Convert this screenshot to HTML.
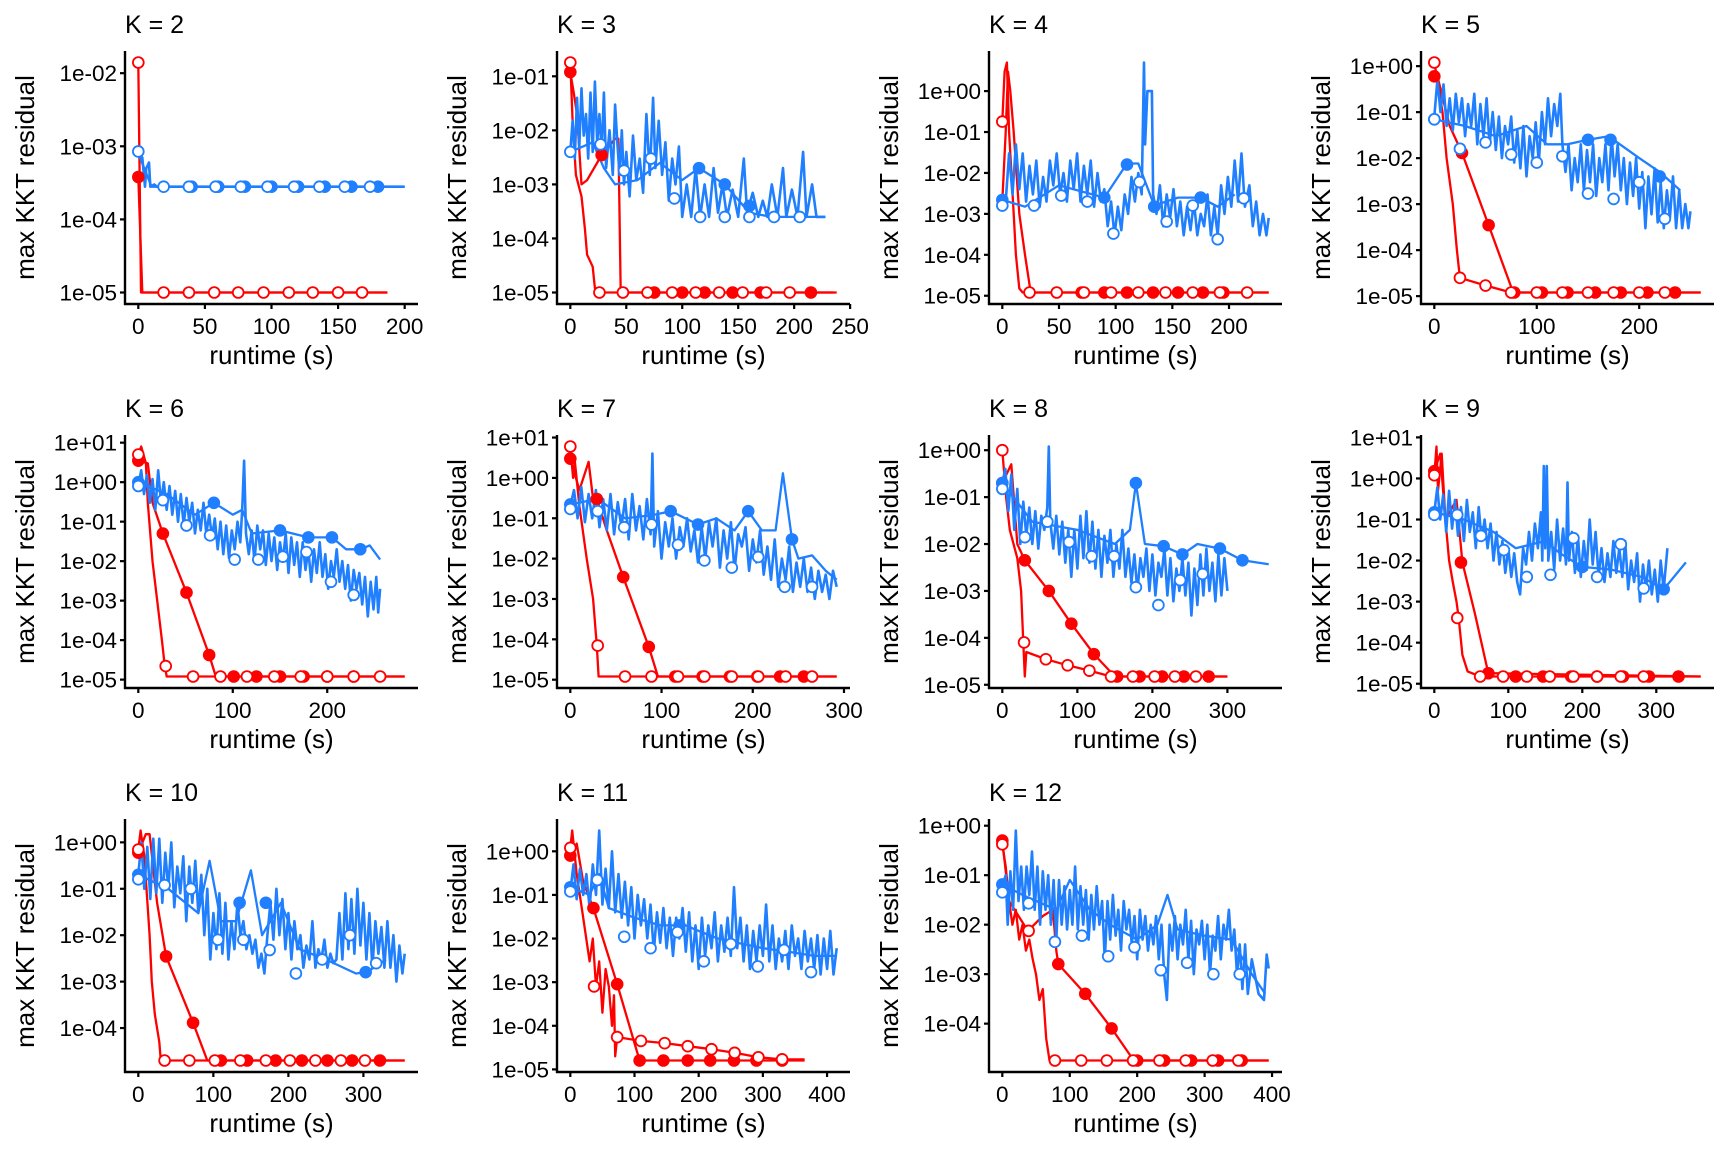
<!DOCTYPE html>
<html><head><meta charset="utf-8">
<style>
html,body{margin:0;padding:0;background:#fff;}
svg{display:block;font-family:"Liberation Sans",Arial,sans-serif;}
</style></head>
<body>
<svg id="fig" width="1728" height="1152" viewBox="0 0 1728 1152" xmlns="http://www.w3.org/2000/svg"></svg>
<script>
// ---------- K = 2 ----------
const k2RedOpen=[[0,1.4e-2],[2,1e-5],[187,1e-5]];
const k2RedOpenPts=[[0,1.4e-2],[19,1e-5],[38,1e-5],[57,1e-5],[75,1e-5],[94,1e-5],[113,1e-5],[131,1e-5],[150,1e-5],[168,1e-5]];
const k2RedFill=[[0,3.8e-4],[3,1e-5],[187,1e-5]];
const k2RedFillPts=[[0,3.8e-4]];
const k2BlueOpen=[[0,8.5e-4],[3,7e-4],[5,2.8e-4],[6,5e-4],[8,6e-4],[9,2.8e-4],[12,3e-4],[14,2.8e-4],[200,2.8e-4]];
const k2BlueOpenPts=[[0,8.5e-4],[19,2.8e-4],[38,2.8e-4],[58,2.8e-4],[77,2.8e-4],[97,2.8e-4],[117,2.8e-4],[136,2.8e-4],[155,2.8e-4],[174,2.8e-4]];
const k2BlueFill=[[0,8e-4],[10,2.8e-4],[200,2.8e-4]];
const k2BlueFillPts=[[40,2.8e-4],[60,2.8e-4],[80,2.8e-4],[100,2.8e-4],[120,2.8e-4],[140,2.8e-4],[160,2.8e-4],[180,2.8e-4]];
const k2XTicks=[0,50,100,150,200];
// ---------- K = 3 ----------
const k3RedOpen=[[0,1.8e-1],[2,1.5e-2],[5,1.5e-3],[10,6e-4],[13,1.5e-4],[15,5e-5],[20,3e-5],[22,1.2e-5],[25,1e-5],[235,1e-5]];
const k3RedOpenPts=[[0,1.8e-1],[26,1e-5],[47,1e-5],[69,1e-5],[91,1e-5],[112,1e-5],[133,1e-5],[154,1e-5],[175,1e-5],[196,1e-5]];
const k3RedFill=[[0,1.2e-1],[3,5e-2],[6,2e-2],[10,1e-3],[15,1.2e-3],[28,3.5e-3],[40,7e-3],[43,7e-3],[45,1e-5],[238,1e-5]];
const k3RedFillPts=[[0,1.2e-1],[28,3.5e-3],[75,1e-5],[100,1e-5],[120,1e-5],[145,1e-5],[170,1e-5],[215,1e-5]];
const k3BlueOpen=[[0,4e-3],[2,1.5e-2],[4,3e-3],[6,4e-2],[8,5e-3],[10,6e-2],[12,8e-3],[14,2e-2],[16,3e-3],[18,5e-2],[20,4e-3],[22,8e-2],[24,6e-3],[26,2e-2],[28,4e-3],[30,5e-2],[32,2e-3],[35,1e-2],[38,1.5e-3],[40,3e-2],[42,6e-3],[44,1.5e-3],[46,1e-2],[48,1e-3],[50,4e-3],[53,6e-4],[56,8e-3],[59,1.2e-3],[62,3e-3],[65,7e-4],[68,2e-2],[71,1.5e-3],[74,4e-2],[76,2e-3],[79,1.5e-2],[82,1.5e-3],[85,6e-3],[88,5e-4],[91,3e-3],[94,1e-3],[97,5e-3],[100,2.5e-4],[104,1e-3],[108,2.5e-4],[112,2e-3],[116,2.5e-4],[120,1e-3],[124,2.5e-4],[128,2e-3],[132,3e-4],[136,1e-3],[140,2.5e-4],[145,8e-4],[150,2.5e-4],[155,3e-3],[158,3e-4],[163,7e-4],[168,2.5e-4],[172,5e-4],[176,2.5e-4],[180,1e-3],[185,2.5e-4],[190,2e-3],[193,2.5e-4],[198,8e-4],[203,2.5e-4],[208,4e-3],[211,2.5e-4],[216,1e-3],[220,2.5e-4],[228,2.5e-4]];
const k3BlueOpenPts=[[0,4e-3],[27,5.5e-3],[48,1.8e-3],[72,3e-3],[93,5.5e-4],[116,2.5e-4],[138,2.5e-4],[160,2.5e-4],[182,2.5e-4],[205,2.5e-4]];
const k3BlueFill=[[0,4e-3],[20,6e-3],[30,2e-3],[40,1e-3],[60,1.2e-3],[80,2.5e-3],[100,1.2e-3],[115,2e-3],[138,1e-3],[160,3e-4],[180,2.5e-4],[228,2.5e-4]];
const k3BlueFillPts=[[115,2e-3],[138,1e-3],[160,4e-4]];
const k3XTicks=[0,50,100,150,200,250];
// ---------- K = 4 ----------
const k4RedOpen=[[0,1.8e-1],[2,3],[4,5],[6,1e-1],[10,1e-3],[12,1e-4],[15,1.5e-5],[18,1.2e-5],[235,1.2e-5]];
const k4RedOpenPts=[[0,1.8e-1],[24,1.2e-5],[48,1.2e-5],[72,1.2e-5],[96,1.2e-5],[120,1.2e-5],[144,1.2e-5],[168,1.2e-5],[192,1.2e-5],[216,1.2e-5]];
const k4RedFill=[[0,2e-3],[3,1e-1],[5,3],[7,1],[10,1e-1],[15,1e-3],[20,1e-4],[25,1.2e-5],[235,1.2e-5]];
const k4RedFillPts=[[70,1.2e-5],[90,1.2e-5],[110,1.2e-5],[133,1.2e-5],[155,1.2e-5],[177,1.2e-5],[195,1.2e-5]];
const k4BlueOpen=[[0,2.5e-3],[3,2e-3],[6,3e-2],[9,3e-3],[12,5e-2],[15,4e-3],[18,3e-2],[21,2e-3],[24,1.5e-2],[27,3e-3],[30,2e-2],[33,1.5e-3],[36,8e-3],[39,2e-3],[42,2e-2],[45,5e-3],[48,3e-2],[51,3e-3],[54,1e-2],[57,2e-3],[60,2e-2],[63,4e-3],[66,3e-2],[69,2e-3],[72,1.5e-2],[75,3e-3],[78,2e-2],[81,1.5e-3],[84,1e-2],[87,2e-3],[90,4e-3],[93,5e-4],[96,2e-3],[99,3e-4],[102,1.5e-3],[105,4e-4],[108,3e-3],[111,1e-3],[114,8e-3],[117,2e-3],[120,1e-2],[123,3e-3],[125,5],[126,5e-2],[128,1],[132,1],[133,3e-3],[136,1e-3],[139,5e-3],[142,5e-4],[145,3e-3],[148,8e-4],[151,4e-3],[154,5e-4],[157,2e-3],[160,3e-4],[163,1.5e-3],[166,4e-4],[169,2e-3],[172,3e-4],[175,1e-3],[178,5e-4],[181,3e-3],[184,3e-4],[187,1.5e-3],[190,3e-4],[193,5e-3],[196,1e-3],[199,8e-3],[202,1.5e-3],[205,2e-2],[208,2e-3],[211,3e-2],[214,1.5e-3],[218,5e-3],[221,5e-4],[224,2e-3],[227,3e-4],[230,1e-3],[233,3e-4],[235,8e-4]];
const k4BlueOpenPts=[[0,1.6e-3],[28,1.6e-3],[52,2.8e-3],[75,2e-3],[98,3.3e-4],[121,6e-3],[145,6.5e-4],[168,1.6e-3],[190,2.4e-4],[213,2.4e-3]];
const k4BlueFill=[[0,2.2e-3],[20,1.5e-3],[50,5e-3],[90,2.5e-3],[110,1.7e-2],[120,1.7e-2],[134,1.6e-3],[155,2.5e-3],[175,2.5e-3],[190,1.5e-3],[205,3e-3]];
const k4BlueFillPts=[[0,2.2e-3],[90,2.5e-3],[110,1.6e-2],[134,1.5e-3],[175,2.5e-3]];
const k4XTicks=[0,50,100,150,200];
// ---------- K = 5 ----------
const k5RedOpen=[[0,1.2],[3,0.5],[8,0.1],[12,1e-2],[18,1e-3],[22,1e-4],[25,2.5e-5],[50,1.7e-5],[75,1.2e-5],[260,1.2e-5]];
const k5RedOpenPts=[[0,1.2],[25,2.5e-5],[50,1.7e-5],[75,1.2e-5],[100,1.2e-5],[125,1.2e-5],[150,1.2e-5],[175,1.2e-5],[200,1.2e-5],[225,1.2e-5]];
const k5RedFill=[[0,0.6],[3,0.6],[15,0.05],[27,1.3e-2],[53,3.5e-4],[77,1.2e-5],[260,1.2e-5]];
const k5RedFillPts=[[0,0.6],[27,1.3e-2],[53,3.5e-4],[78,1.2e-5],[105,1.2e-5],[130,1.2e-5],[157,1.2e-5],[182,1.2e-5],[208,1.2e-5],[235,1.2e-5]];
const k5BlueOpen=[[0,0.08],[3,0.5],[6,0.1],[9,0.4],[12,0.05],[15,0.2],[18,0.04],[21,0.25],[24,0.06],[27,0.2],[30,0.03],[33,0.15],[36,0.05],[39,0.25],[42,0.02],[45,0.15],[48,0.03],[51,0.2],[54,0.02],[57,0.1],[60,0.015],[63,0.08],[66,0.01],[69,0.05],[72,0.02],[75,0.08],[78,0.008],[81,0.04],[84,0.006],[87,0.05],[90,0.004],[93,0.03],[96,0.01],[99,0.06],[102,0.008],[105,0.1],[108,0.02],[111,0.2],[114,0.03],[117,0.15],[120,0.05],[123,0.25],[125,0.02],[128,0.005],[131,0.02],[134,0.002],[137,0.01],[140,0.003],[143,0.02],[146,0.002],[149,0.015],[152,0.003],[155,0.02],[158,0.0015],[161,0.01],[164,0.003],[167,0.02],[170,0.002],[173,0.03],[176,0.004],[179,0.02],[182,0.002],[185,0.01],[188,0.001],[191,0.008],[194,0.0015],[197,0.01],[200,0.0008],[203,0.005],[206,0.0003],[209,0.004],[212,0.0006],[215,0.006],[218,0.0004],[221,0.003],[224,0.0003],[227,0.002],[230,0.0005],[233,0.004],[236,0.0003],[239,0.002],[242,0.0003],[245,0.001],[248,0.0003],[250,0.0007]];
const k5BlueOpenPts=[[0,7e-2],[25,1.6e-2],[50,2.2e-2],[75,1.2e-2],[100,8e-3],[125,1.1e-2],[150,1.7e-3],[175,1.3e-3],[200,3e-3],[225,4.8e-4]];
const k5BlueFill=[[0,0.07],[30,0.05],[60,0.03],[90,0.05],[110,0.02],[130,0.02],[150,0.025],[170,0.03],[200,0.01],[220,0.005],[240,0.002]];
const k5BlueFillPts=[[0,0.07],[150,0.025],[172,0.025],[220,0.004]];
const k5XTicks=[0,100,200];
// ---------- K = 6 ----------
const k6RedOpen=[[0,5],[3,8],[8,3],[10,0.3],[15,0.01],[20,1e-3],[25,1e-4],[28,2.2e-5],[30,1.2e-5],[282,1.2e-5]];
const k6RedOpenPts=[[0,5],[29,2.2e-5],[58,1.2e-5],[87,1.2e-5],[115,1.2e-5],[144,1.2e-5],[172,1.2e-5],[200,1.2e-5],[228,1.2e-5],[256,1.2e-5]];
const k6RedFill=[[0,3.5],[10,3],[15,0.3],[26,5e-2],[51,1.6e-3],[75,4.2e-5],[82,1.2e-5],[282,1.2e-5]];
const k6RedFillPts=[[0,3.5],[26,5e-2],[51,1.6e-3],[75,4.2e-5],[101,1.2e-5],[125,1.2e-5],[150,1.2e-5],[175,1.2e-5],[200,1.2e-5],[228,1.2e-5]];
const k6BlueOpen=[[0,0.8],[3,2],[6,0.5],[9,1.5],[12,0.3],[15,1.2],[18,0.2],[21,2],[24,0.3],[27,1],[30,0.2],[33,0.8],[36,0.15],[39,0.6],[42,0.1],[45,0.5],[48,0.08],[51,0.4],[54,0.1],[57,0.3],[60,0.05],[63,0.2],[66,0.06],[69,0.3],[72,0.05],[75,0.15],[78,0.04],[81,0.12],[84,0.02],[87,0.1],[90,0.015],[93,0.08],[96,0.012],[99,0.06],[102,0.02],[105,0.1],[108,0.03],[110,0.2],[112,3.5],[114,0.05],[117,0.015],[120,0.06],[123,0.01],[126,0.08],[129,0.02],[132,0.06],[135,0.008],[138,0.05],[141,0.01],[144,0.04],[147,0.006],[150,0.03],[153,0.01],[156,0.05],[159,0.005],[162,0.04],[165,0.008],[168,0.03],[171,0.004],[174,0.03],[177,0.006],[180,0.02],[183,0.003],[186,0.02],[189,0.005],[192,0.03],[195,0.004],[198,0.015],[201,0.002],[204,0.01],[207,0.004],[210,0.02],[213,0.003],[216,0.01],[219,0.002],[222,0.008],[225,0.001],[228,0.006],[231,0.002],[234,0.005],[237,0.0008],[240,0.004],[243,0.0004],[246,0.003],[249,0.0006],[252,0.004],[254,0.0005],[256,0.002]];
const k6BlueOpenPts=[[0,0.8],[26,0.35],[51,0.08],[76,0.045],[102,0.011],[127,0.011],[153,0.013],[178,0.017],[204,0.003],[228,0.0014]];
const k6BlueFill=[[0,1],[30,0.5],[60,0.15],[80,0.3],[100,0.15],[110,0.2],[120,0.05],[150,0.06],[180,0.04],[205,0.04],[220,0.02],[235,0.02],[245,0.025],[256,0.011]];
const k6BlueFillPts=[[0,1],[80,0.3],[150,0.06],[180,0.04],[205,0.04],[235,0.02]];
const k6XTicks=[0,100,200];
// ---------- K = 7 ----------
const k7RedOpen=[[0,6],[3,1],[5,2.5],[10,0.2],[18,1e-2],[25,1e-3],[29,7e-5],[31,1.2e-5],[292,1.2e-5]];
const k7RedOpenPts=[[0,6],[30,7e-5],[60,1.2e-5],[89,1.2e-5],[118,1.2e-5],[147,1.2e-5],[177,1.2e-5],[206,1.2e-5],[236,1.2e-5],[265,1.2e-5]];
const k7RedFill=[[0,3],[10,0.5],[20,2.5],[25,0.3],[29,0.3],[40,0.05],[58,3.5e-3],[86,6.5e-5],[96,1.2e-5],[292,1.2e-5]];
const k7RedFillPts=[[0,3],[29,0.3],[58,3.5e-3],[86,6.5e-5],[115,1.2e-5],[145,1.2e-5],[175,1.2e-5],[205,1.2e-5],[230,1.2e-5],[256,1.2e-5]];
const k7BlueOpen=[[0,0.2],[4,0.5],[8,0.1],[12,0.6],[16,0.08],[20,0.4],[24,0.1],[28,0.5],[32,0.06],[36,0.3],[40,0.05],[44,0.4],[48,0.04],[52,0.25],[56,0.06],[60,0.3],[64,0.03],[68,0.4],[72,0.05],[76,0.2],[80,0.03],[84,0.3],[88,0.04],[90,4],[92,0.02],[96,0.15],[100,0.01],[104,0.08],[108,0.02],[112,0.1],[116,0.01],[120,0.06],[124,0.02],[128,0.1],[132,0.015],[136,0.05],[140,0.008],[144,0.06],[148,0.01],[152,0.08],[156,0.02],[160,0.1],[164,0.006],[168,0.05],[172,0.01],[176,0.08],[180,0.005],[184,0.04],[188,0.02],[192,0.06],[196,0.005],[200,0.03],[204,0.008],[208,0.05],[212,0.004],[216,0.02],[220,0.003],[224,0.03],[228,0.002],[232,0.01],[236,0.003],[240,0.02],[244,0.0015],[248,0.008],[252,0.002],[256,0.01],[260,0.0015],[264,0.006],[268,0.001],[272,0.005],[276,0.0015],[280,0.004],[284,0.001],[288,0.005],[292,0.002]];
const k7BlueOpenPts=[[0,0.17],[30,0.15],[59,0.06],[89,0.07],[118,0.022],[147,0.009],[177,0.006],[206,0.011],[235,0.002],[265,0.002]];
const k7BlueFill=[[0,0.22],[30,0.3],[60,0.1],[90,0.12],[110,0.15],[140,0.07],[160,0.1],[180,0.05],[195,0.15],[210,0.05],[225,0.05],[233,1.3],[243,0.03],[250,0.01],[265,0.012],[280,0.005],[292,0.003]];
const k7BlueFillPts=[[0,0.22],[110,0.15],[140,0.07],[195,0.15],[243,0.03]];
const k7XTicks=[0,100,200,300];
// ---------- K = 8 ----------
const k8RedOpen=[[0,1],[5,0.1],[10,0.02],[20,5e-3],[25,1e-3],[28,8e-5],[30,1.5e-5],[32,5e-5],[58,3.5e-5],[87,2.6e-5],[116,2e-5],[145,1.5e-5],[300,1.5e-5]];
const k8RedOpenPts=[[0,1],[29,8e-5],[58,3.5e-5],[87,2.6e-5],[116,2e-5],[145,1.5e-5],[174,1.5e-5],[203,1.5e-5],[230,1.5e-5],[258,1.5e-5]];
const k8RedFill=[[0,0.2],[12,0.5],[20,1e-2],[30,4.5e-3],[62,1e-3],[92,2e-4],[122,4.5e-5],[150,1.5e-5],[300,1.5e-5]];
const k8RedFillPts=[[0,0.2],[30,4.5e-3],[62,1e-3],[92,2e-4],[122,4.5e-5],[153,1.5e-5],[183,1.5e-5],[213,1.5e-5],[242,1.5e-5],[275,1.5e-5]];
const k8BlueOpen=[[0,0.2],[4,0.4],[8,0.05],[12,0.3],[16,0.02],[20,0.15],[24,0.01],[28,0.08],[32,0.015],[36,0.06],[40,0.01],[44,0.05],[48,0.008],[52,0.04],[56,0.02],[60,0.06],[62,1.2],[64,0.03],[68,0.008],[72,0.04],[76,0.006],[80,0.03],[84,0.004],[88,0.02],[92,0.002],[96,0.02],[100,0.003],[104,0.04],[108,0.005],[112,0.05],[116,0.004],[120,0.03],[124,0.003],[128,0.02],[132,0.002],[136,0.015],[140,0.004],[144,0.02],[148,0.002],[152,0.01],[156,0.003],[160,0.02],[164,0.002],[168,0.008],[172,0.0015],[176,0.006],[180,0.001],[184,0.005],[188,0.002],[192,0.008],[196,0.001],[200,0.006],[204,0.0008],[208,0.004],[212,0.002],[216,0.008],[220,0.0008],[224,0.005],[228,0.0006],[232,0.003],[236,0.001],[240,0.005],[244,0.0008],[248,0.004],[252,0.0003],[256,0.003],[260,0.0005],[264,0.006],[268,0.0008],[272,0.008],[276,0.001],[280,0.004],[284,0.0006],[288,0.006],[292,0.0008],[296,0.005],[300,0.001]];
const k8BlueOpenPts=[[0,0.15],[30,0.014],[60,0.03],[89,0.011],[119,0.0055],[149,0.0055],[178,0.0012],[208,0.0005],[237,0.0017],[267,0.0023]];
const k8BlueFill=[[0,0.2],[40,0.03],[100,0.02],[150,0.01],[170,0.02],[178,0.2],[190,0.01],[215,0.009],[240,0.006],[260,0.01],[290,0.008],[320,0.0045],[355,0.0037]];
const k8BlueFillPts=[[0,0.2],[178,0.2],[215,0.009],[240,0.006],[290,0.008],[320,0.0045]];
const k8XTicks=[0,100,200,300];
// ---------- K = 9 ----------
const k9RedOpen=[[0,1.2],[3,6],[5,0.5],[10,4],[15,0.1],[20,0.01],[25,3e-3],[30,1e-3],[33,4e-4],[38,5e-5],[45,2e-5],[62,1.5e-5],[360,1.5e-5]];
const k9RedOpenPts=[[0,1.2],[31,4e-4],[62,1.5e-5],[93,1.5e-5],[125,1.5e-5],[156,1.5e-5],[188,1.5e-5],[220,1.5e-5],[252,1.5e-5],[283,1.5e-5]];
const k9RedFill=[[0,1.5],[8,4],[15,0.1],[30,0.3],[38,9e-3],[55,5e-4],[73,1.8e-5],[360,1.5e-5]];
const k9RedFillPts=[[0,1.5],[36,9e-3],[73,1.8e-5],[110,1.5e-5],[147,1.5e-5],[185,1.5e-5],[220,1.5e-5],[255,1.5e-5],[290,1.5e-5],[330,1.5e-5]];
const k9BlueOpen=[[0,0.15],[4,0.6],[8,0.1],[12,0.4],[16,0.05],[20,0.5],[24,0.06],[28,0.3],[32,0.04],[36,0.2],[40,0.03],[44,0.3],[48,0.05],[52,0.15],[56,0.02],[60,0.2],[64,0.03],[68,0.1],[72,0.02],[76,0.08],[80,0.01],[84,0.05],[88,0.008],[92,0.03],[96,0.005],[100,0.02],[104,0.004],[108,0.015],[112,0.003],[116,0.0015],[120,0.02],[124,0.008],[128,0.05],[132,0.01],[136,0.08],[140,0.02],[144,0.15],[146,0.01],[148,2],[150,0.02],[152,2],[154,0.01],[158,0.05],[162,0.006],[166,0.1],[170,0.01],[174,0.06],[178,0.008],[180,0.8],[182,0.01],[186,0.05],[190,0.005],[194,0.04],[198,0.004],[202,0.03],[206,0.006],[210,0.1],[214,0.008],[218,0.05],[222,0.004],[226,0.02],[230,0.003],[234,0.015],[238,0.004],[242,0.03],[246,0.005],[250,0.02],[254,0.004],[258,0.03],[262,0.002],[266,0.01],[270,0.003],[274,0.015],[278,0.001],[282,0.008],[286,0.002],[290,0.01],[294,0.0015],[298,0.006],[302,0.001],[306,0.01],[310,0.002],[315,0.02]];
const k9BlueOpenPts=[[0,0.13],[31,0.13],[63,0.04],[94,0.018],[125,0.004],[157,0.0045],[188,0.035],[220,0.004],[252,0.025],[283,0.0021]];
const k9BlueFill=[[0,0.15],[40,0.1],[80,0.05],[110,0.02],[150,0.03],[170,0.015],[200,0.007],[240,0.006],[280,0.004],[310,0.002],[340,0.009]];
const k9BlueFillPts=[[0,0.15],[200,0.007],[310,0.002]];
const k9XTicks=[0,100,200,300];
// ---------- K = 10 ----------
const k10RedOpen=[[0,0.7],[3,1.8],[8,0.5],[15,0.01],[18,1e-3],[22,2e-4],[28,5e-5],[30,2e-5],[355,2e-5]];
const k10RedOpenPts=[[0,0.7],[35,2e-5],[68,2e-5],[102,2e-5],[136,2e-5],[170,2e-5],[202,2e-5],[236,2e-5],[270,2e-5],[302,2e-5]];
const k10RedFill=[[0,0.6],[10,1.5],[15,1.5],[25,0.05],[37,3.5e-3],[73,1.3e-4],[92,2e-5],[355,2e-5]];
const k10RedFillPts=[[0,0.6],[37,3.5e-3],[73,1.3e-4],[110,2e-5],[145,2e-5],[183,2e-5],[218,2e-5],[252,2e-5],[285,2e-5],[322,2e-5]];
const k10BlueOpen=[[0,0.2],[4,1],[8,0.1],[12,0.8],[16,0.06],[20,1.2],[24,0.08],[28,1.2],[32,0.05],[36,0.6],[40,0.1],[44,1],[48,0.04],[52,0.3],[56,0.08],[60,0.5],[64,0.02],[68,0.3],[72,0.05],[76,0.4],[80,0.03],[84,0.2],[88,0.01],[92,0.1],[96,0.003],[100,0.03],[104,0.005],[108,0.08],[112,0.004],[116,0.05],[120,0.003],[124,0.02],[128,0.005],[132,0.05],[136,0.01],[140,0.02],[144,0.005],[148,0.01],[152,0.004],[156,0.008],[160,0.002],[164,0.004],[168,0.0015],[172,0.01],[176,0.05],[180,0.008],[184,0.1],[188,0.01],[192,0.06],[196,0.005],[200,0.03],[204,0.003],[208,0.02],[212,0.005],[216,0.01],[220,0.002],[224,0.006],[228,0.003],[232,0.02],[236,0.002],[240,0.005],[244,0.003],[248,0.008],[252,0.002],[256,0.004],[260,0.0025],[264,0.003],[268,0.03],[272,0.003],[276,0.08],[280,0.005],[284,0.06],[288,0.004],[292,0.1],[296,0.006],[300,0.05],[304,0.003],[308,0.03],[312,0.002],[316,0.02],[320,0.004],[324,0.015],[328,0.002],[332,0.02],[336,0.002],[340,0.01],[344,0.001],[348,0.006],[352,0.0015],[355,0.004]];
const k10BlueOpenPts=[[0,0.16],[35,0.12],[70,0.1],[106,0.008],[140,0.008],[175,0.0048],[210,0.0015],[245,0.003],[282,0.01],[317,0.0025]];
const k10BlueFill=[[0,0.2],[40,0.1],[80,0.03],[95,0.4],[110,0.02],[130,0.02],[150,0.25],[165,0.01],[190,0.05],[215,0.005],[250,0.003],[290,0.0015],[305,0.0016],[330,0.003]];
const k10BlueFillPts=[[0,0.2],[135,0.05],[170,0.05],[303,0.0016]];
const k10XTicks=[0,100,200,300];
// ---------- K = 11 ----------
const k11RedOpen=[[0,1.2],[3,3],[10,0.3],[20,0.03],[30,0.003],[35,0.01],[40,8e-4],[45,3e-3],[50,2e-4],[55,2e-3],[60,8e-4],[65,1e-4],[68,5e-4],[70,2e-5],[73,5.5e-5],[110,4.5e-5],[147,4e-5],[183,3.4e-5],[220,2.9e-5],[256,2.4e-5],[293,1.9e-5],[330,1.7e-5],[365,1.7e-5]];
const k11RedOpenPts=[[0,1.2],[37,8e-4],[73,5.5e-5],[110,4.5e-5],[147,4e-5],[183,3.4e-5],[220,2.9e-5],[256,2.4e-5],[293,1.9e-5],[330,1.7e-5]];
const k11RedFill=[[0,0.8],[10,1.5],[20,0.2],[36,0.05],[73,9e-4],[108,1.6e-5],[365,1.6e-5]];
const k11RedFillPts=[[0,0.8],[36,0.05],[73,9e-4],[108,1.6e-5],[145,1.6e-5],[183,1.6e-5],[218,1.6e-5],[255,1.6e-5],[290,1.6e-5],[330,1.6e-5]];
const k11BlueOpen=[[0,0.12],[5,0.5],[10,0.08],[15,0.4],[20,0.1],[25,0.3],[30,0.05],[35,0.5],[40,0.1],[45,3],[50,0.06],[55,0.4],[60,0.05],[65,1],[70,0.04],[75,0.3],[80,0.03],[85,0.2],[90,0.02],[95,0.15],[100,0.01],[105,0.1],[110,0.02],[115,0.08],[120,0.01],[125,0.06],[130,0.005],[135,0.04],[140,0.008],[145,0.05],[150,0.006],[155,0.03],[160,0.004],[165,0.03],[170,0.01],[175,0.05],[180,0.005],[185,0.04],[190,0.003],[195,0.02],[200,0.002],[205,0.03],[210,0.004],[215,0.02],[220,0.006],[225,0.04],[230,0.003],[235,0.02],[240,0.005],[245,0.03],[250,0.004],[255,0.15],[260,0.006],[265,0.03],[270,0.003],[275,0.02],[280,0.002],[285,0.015],[290,0.003],[295,0.02],[300,0.004],[305,0.06],[310,0.003],[315,0.02],[320,0.002],[325,0.01],[330,0.003],[335,0.015],[340,0.002],[345,0.02],[350,0.004],[355,0.01],[360,0.002],[365,0.015],[370,0.003],[375,0.01],[380,0.002],[385,0.012],[390,0.0015],[395,0.01],[400,0.002],[405,0.015],[410,0.0015],[415,0.006]];
const k11BlueOpenPts=[[0,0.12],[42,0.22],[84,0.011],[125,0.006],[167,0.014],[208,0.003],[250,0.0075],[292,0.0023],[333,0.0055],[375,0.0017]];
const k11BlueFill=[[0,0.15],[30,0.1],[45,0.3],[60,0.05],[100,0.03],[140,0.02],[180,0.02],[200,0.015],[230,0.01],[260,0.008],[300,0.006],[340,0.005],[380,0.004],[415,0.004]];
const k11BlueFillPts=[[0,0.15],[170,0.02]];
const k11XTicks=[0,100,200,300,400];
// ---------- K = 12 ----------
const k12RedOpen=[[0,0.42],[5,0.15],[10,0.03],[15,0.01],[20,0.02],[25,0.005],[30,0.01],[35,0.003],[40,0.005],[45,0.002],[50,1e-3],[55,3e-4],[60,5e-4],[65,5e-5],[70,1.8e-5],[395,1.8e-5]];
const k12RedOpenPts=[[0,0.42],[39,0.0075],[78,1.8e-5],[117,1.8e-5],[155,1.8e-5],[194,1.8e-5],[233,1.8e-5],[272,1.8e-5],[312,1.8e-5],[350,1.8e-5]];
const k12RedFill=[[0,0.5],[10,0.03],[38,0.0075],[60,0.015],[75,0.02],[80,0.003],[83,1.6e-3],[123,4e-4],[162,8e-5],[195,1.8e-5],[395,1.8e-5]];
const k12RedFillPts=[[0,0.5],[83,1.6e-3],[123,4e-4],[162,8e-5],[200,1.8e-5],[240,1.8e-5],[280,1.8e-5],[320,1.8e-5],[355,1.8e-5]];
const k12BlueOpen=[[0,0.06],[5,0.1],[8,0.01],[12,0.12],[16,0.02],[20,0.8],[24,0.03],[28,0.15],[32,0.02],[36,0.15],[40,0.04],[44,0.3],[48,0.02],[52,0.15],[56,0.01],[60,0.12],[64,0.02],[68,0.1],[72,0.01],[76,0.08],[80,0.005],[84,0.08],[88,0.01],[92,0.06],[96,0.008],[100,0.05],[104,0.01],[108,0.15],[112,0.008],[116,0.06],[120,0.01],[124,0.05],[128,0.005],[132,0.04],[136,0.008],[140,0.06],[144,0.01],[148,0.03],[152,0.002],[156,0.03],[160,0.005],[164,0.04],[168,0.006],[172,0.02],[176,0.003],[180,0.03],[184,0.008],[188,0.02],[192,0.004],[196,0.015],[200,0.002],[204,0.02],[208,0.005],[212,0.015],[216,0.003],[220,0.01],[224,0.004],[228,0.015],[232,0.002],[236,0.01],[240,0.001],[244,0.0003],[248,0.01],[252,0.003],[256,0.015],[260,0.002],[264,0.01],[268,0.004],[272,0.02],[276,0.002],[280,0.012],[284,0.001],[288,0.008],[292,0.004],[296,0.012],[300,0.002],[304,0.01],[308,0.001],[312,0.006],[316,0.003],[320,0.015],[324,0.002],[328,0.01],[332,0.005],[336,0.02],[340,0.003],[344,0.008],[348,0.001],[352,0.004],[356,0.0005],[360,0.004],[364,0.0004],[370,0.002],[380,0.0004],[388,0.0003],[392,0.0025],[395,0.0013]];
const k12BlueOpenPts=[[0,0.045],[39,0.027],[78,0.0045],[118,0.006],[157,0.0023],[196,0.0035],[235,0.0012],[274,0.0017],[313,0.001],[352,0.001]];
const k12BlueFill=[[0,0.065],[30,0.04],[80,0.02],[100,0.08],[130,0.02],[160,0.01],[200,0.005],[230,0.01],[245,0.04],[260,0.008],[300,0.006],[340,0.005],[370,0.001],[390,0.0004]];
const k12BlueFillPts=[[0,0.065]];
const k12XTicks=[0,100,200,300,400];

const panelKs=[2,3,4,5,6,7,8,9,10,11,12];
const panelSeries=[
 [k2RedOpen,k2RedOpenPts,k2RedFill,k2RedFillPts,k2BlueOpen,k2BlueOpenPts,k2BlueFill,k2BlueFillPts,k2XTicks],
 [k3RedOpen,k3RedOpenPts,k3RedFill,k3RedFillPts,k3BlueOpen,k3BlueOpenPts,k3BlueFill,k3BlueFillPts,k3XTicks],
 [k4RedOpen,k4RedOpenPts,k4RedFill,k4RedFillPts,k4BlueOpen,k4BlueOpenPts,k4BlueFill,k4BlueFillPts,k4XTicks],
 [k5RedOpen,k5RedOpenPts,k5RedFill,k5RedFillPts,k5BlueOpen,k5BlueOpenPts,k5BlueFill,k5BlueFillPts,k5XTicks],
 [k6RedOpen,k6RedOpenPts,k6RedFill,k6RedFillPts,k6BlueOpen,k6BlueOpenPts,k6BlueFill,k6BlueFillPts,k6XTicks],
 [k7RedOpen,k7RedOpenPts,k7RedFill,k7RedFillPts,k7BlueOpen,k7BlueOpenPts,k7BlueFill,k7BlueFillPts,k7XTicks],
 [k8RedOpen,k8RedOpenPts,k8RedFill,k8RedFillPts,k8BlueOpen,k8BlueOpenPts,k8BlueFill,k8BlueFillPts,k8XTicks],
 [k9RedOpen,k9RedOpenPts,k9RedFill,k9RedFillPts,k9BlueOpen,k9BlueOpenPts,k9BlueFill,k9BlueFillPts,k9XTicks],
 [k10RedOpen,k10RedOpenPts,k10RedFill,k10RedFillPts,k10BlueOpen,k10BlueOpenPts,k10BlueFill,k10BlueFillPts,k10XTicks],
 [k11RedOpen,k11RedOpenPts,k11RedFill,k11RedFillPts,k11BlueOpen,k11BlueOpenPts,k11BlueFill,k11BlueFillPts,k11XTicks],
 [k12RedOpen,k12RedOpenPts,k12RedFill,k12RedFillPts,k12BlueOpen,k12BlueOpenPts,k12BlueFill,k12BlueFillPts,k12XTicks]
];

const NS="http://www.w3.org/2000/svg";
const RED="#ff0000", BLUE="#1f7fff";
const svg=document.getElementById('fig');
function mk(tag,attrs,parent){const e=document.createElementNS(NS,tag);for(const k in attrs)e.setAttribute(k,attrs[k]);parent.appendChild(e);return e;}
function fmtExp(p){const s=p<0?'-':'+';const a=Math.abs(p);return '1e'+s+(a<10?'0':'')+a;}

panelKs.forEach((K,i)=>{
  const [rO,rOP,rF,rFP,bO,bOP,bF,bFP,xt]=panelSeries[i];
  const col=i%4,row=Math.floor(i/4);
  const ox=col*432, oy=row*384;
  const L=ox+125,R=ox+418,T=oy+51,B=oy+304;
  const g=mk('g',{},svg);
  
  
  const all=[rO,rOP,rF,rFP,bO,bOP,bF,bFP].flat();
  let xmax=0,lmin=99,lmax=-99;
  all.forEach(p=>{xmax=Math.max(xmax,p[0]);const l=Math.log10(p[1]);lmin=Math.min(lmin,l);lmax=Math.max(lmax,l);});
  const xd0=-0.05*xmax, xd1=1.05*xmax;
  const dl=lmax-lmin, ld0=lmin-0.05*dl, ld1=lmax+0.05*dl;
  const sx=x=>L+(x-xd0)/(xd1-xd0)*(R-L);
  const sy=y=>B-(Math.log10(y)-ld0)/(ld1-ld0)*(B-T);
  const t=mk('text',{x:L,y:oy+33,'font-size':25,fill:'#000'},g);t.textContent='K = '+K;
  
  
  const clip=mk('clipPath',{id:'c'+K},g);mk('rect',{x:L,y:T-2,width:R-L,height:B-T+2},clip);
  const sg=mk('g',{'clip-path':'url(#c'+K+')'},g);
  const line=(d,c,w,name)=>{const p=mk('polyline',{points:d.map(q=>sx(q[0]).toFixed(1)+','+sy(q[1]).toFixed(1)).join(' '),fill:'none',stroke:c,'stroke-width':w,'stroke-linejoin':'round'},sg);
    
    };
  const pts=(d,c,filled,name)=>{d.forEach(q=>{const m=mk('circle',{cx:sx(q[0]),cy:sy(q[1]),r:5.4,fill:filled?c:'#fff',stroke:c,'stroke-width':1.8},sg);
    
    });};
  line(rF,RED,2.3,'red-filled-line');line(rO,RED,2.3,'red-open-line');
  line(bF,BLUE,2.3,'blue-filled-line');line(bO,BLUE,2.6,'blue-open-line');
  pts(rFP,RED,true,'red-filled-point');pts(rOP,RED,false,'red-open-point');
  pts(bFP,BLUE,true,'blue-filled-point');pts(bOP,BLUE,false,'blue-open-point');
  const ya=mk('line',{x1:L,y1:T,x2:L,y2:B+1,stroke:'#000','stroke-width':2.4},g);
  
  
  const xa=mk('line',{x1:L-1,y1:B,x2:R,y2:B,stroke:'#000','stroke-width':2.4},g);
  
  
  for(let p=Math.ceil(ld0);p<=Math.floor(ld1);p++){
    const y=sy(Math.pow(10,p));
    mk('line',{x1:L-5,y1:y,x2:L,y2:y,stroke:'#000','stroke-width':2.2},g);
    const tl=mk('text',{x:L-8,y:y+8,'font-size':22.5,'text-anchor':'end',fill:'#000'},g);tl.textContent=fmtExp(p);
    
    
  }
  xt.forEach(v=>{const x=sx(v);
    mk('line',{x1:x,y1:B,x2:x,y2:B+5,stroke:'#000','stroke-width':2.2},g);
    const tl=mk('text',{x:x,y:B+30,'font-size':22.5,'text-anchor':'middle',fill:'#000'},g);tl.textContent=v;
    
    });
  const xtt=mk('text',{x:(L+R)/2,y:oy+364,'font-size':26,'text-anchor':'middle',fill:'#000'},g);xtt.textContent='runtime (s)';
  
  
  const cy=(T+B)/2;
  const ytt=mk('text',{x:ox+34,y:cy,'font-size':26,'text-anchor':'middle',fill:'#000',transform:'rotate(-90 '+(ox+34)+' '+cy+')'},g);ytt.textContent='max KKT residual';
  
  
});
</script>
</body></html>
